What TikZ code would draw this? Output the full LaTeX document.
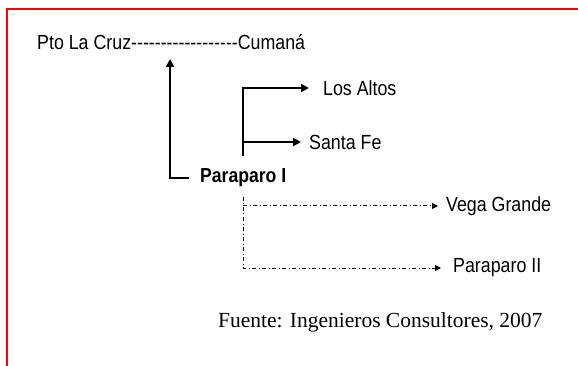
\documentclass[tikz,border=0pt]{standalone}
\usepackage{fontspec}
\setmainfont{Liberation Serif}
\newfontfamily\arialf{Liberation Sans}
\usetikzlibrary{arrows.meta}
\begin{document}
\begin{tikzpicture}[x=1pt,y=-1pt,
  lbl/.style={font=\arialf\fontsize{17.8}{20}\selectfont, inner sep=0pt, anchor=west, yscale=1.15, transform shape},
  blbl/.style={lbl, font=\arialf\bfseries\fontsize{17.6}{20}\selectfont},
  sline/.style={line width=2.8pt},
  sarrow/.style={sline, -{Triangle[length=8pt,width=8pt]}},
  ddarrow/.style={line width=1pt, dash pattern=on 4pt off 2.5pt on 1pt off 2.5pt, -{Triangle[length=6pt,width=6pt]}},
  frame/.style={red, line width=2pt}]
\useasboundingbox (0,0) rectangle (578,366);
\draw[frame] (578,9) -- (7,9) -- (7,366);
\node[lbl] (top) at (37,42) {Pto La Cruz------------------Cumaná};
\node[blbl] (p1) at (200,178) {Paraparo I};
\node[lbl] (la) at (323,88) {Los Altos};
\node[lbl] (sf) at (309,142) {Santa Fe};
\node[lbl] (vg) at (446,206) {Vega Grande};
\node[lbl] (p2) at (453,268) {Paraparo II};
\node[font=\fontsize{21.5}{24}\selectfont, inner sep=0pt, anchor=west] (src) at (218,322) {Fuente: Ingenieros Consultores, 2007};
\coordinate (uptip) at (170,59);
\coordinate (trunkbot) at (243,156);
\coordinate (dtop) at (243,197);
\draw[sarrow] ([xshift=-11pt]p1.west) -| (uptip);
\draw[sarrow] (trunkbot) |- ([xshift=-14pt]la.west);
\draw[sarrow] (trunkbot |- sf.west) -- ([xshift=-8pt]sf.west);
\draw[ddarrow] (dtop) |- ([xshift=-12pt]p2.west);
\draw[ddarrow] (dtop |- vg.west) -- ([xshift=-8pt]vg.west);
\end{tikzpicture}
\end{document}
